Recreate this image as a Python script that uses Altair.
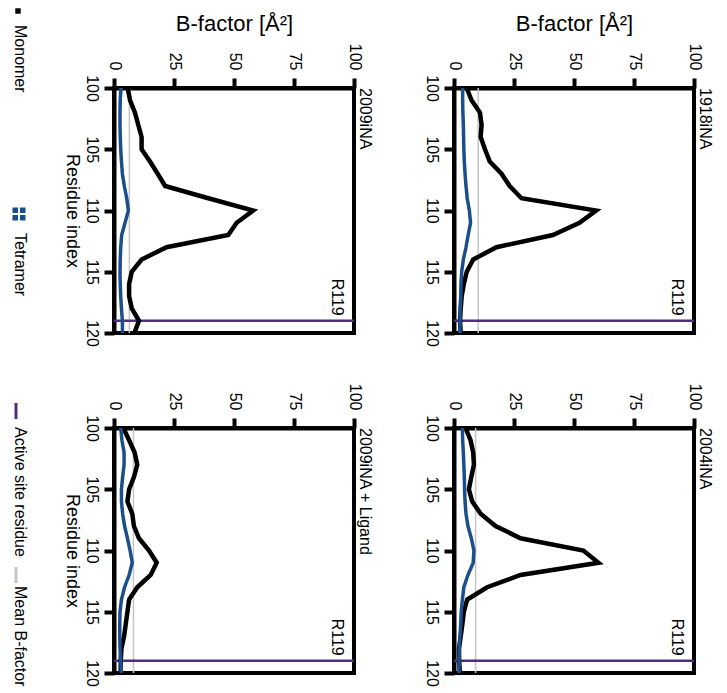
import altair as alt
import pandas as pd

# ---------------- data ----------------
residues = list(range(100, 121))
panel_names = ["2009iNA", "1918iNA", "2009iNA + Ligand", "2004iNA"]

monomer_2009 = [5.7, 6.7, 8.7, 10.1, 11.5, 11.5, 15.0, 18.2, 21.3, 39.3, 58.0,
                51.1, 47.6, 21.9, 11.5, 7.4, 6.3, 6.3, 7.4, 10.4, 8.5]
tetramer_2009 = [2.9, 2.6, 2.5, 2.5, 2.6, 2.8, 3.1, 3.5, 4.3, 5.3, 6.0,
                 4.6, 3.2, 2.8, 2.6, 2.5, 2.6, 2.8, 3.1, 3.5, 3.5]
monomer_1918 = [5.3, 7.3, 10.8, 11.5, 11.1, 12.9, 14.9, 19.8, 23.2, 28.1, 59.2,
                52.3, 41.2, 17.7, 8.0, 5.3, 4.1, 3.2, 2.8, 2.5, 2.8]
tetramer_1918 = [3.6, 3.6, 3.7, 3.9, 4.0, 4.1, 4.3, 4.6, 5.0, 5.5, 6.4,
                 6.9, 5.9, 5.0, 3.9, 3.2, 2.9, 2.8, 2.6, 2.5, 2.5]
monomer_2009_lig = [3.9, 6.3, 8.6, 9.7, 8.3, 6.3, 5.6, 7.6, 8.3, 10.4, 14.6,
                    17.8, 15.3, 9.7, 6.3, 5.6, 4.9, 4.2, 3.1, 2.8, 2.8]
tetramer_2009_lig = [2.8, 3.3, 4.2, 4.2, 3.6, 3.1, 3.1, 3.6, 4.4, 5.6, 6.7,
                     7.6, 6.3, 4.4, 3.1, 2.5, 2.4, 2.4, 2.5, 2.8, 3.1]
monomer_2004 = [4.8, 6.9, 8.0, 8.3, 7.2, 6.2, 7.6, 11.1, 17.3, 27.7, 53.9,
                60.2, 27.7, 13.8, 5.5, 4.1, 3.5, 2.8, 2.1, 2.1, 2.5]
tetramer_2004 = [3.5, 3.6, 3.9, 4.1, 4.3, 4.4, 4.6, 5.0, 5.8, 7.2, 8.3,
                 8.0, 5.8, 4.1, 3.5, 3.0, 2.8, 2.5, 2.2, 2.1, 2.1]
mean_bfactor = [6.4, 10.1, 8.1, 9.0]   # in panel_names order

active_site = 119
active_label = "R119"
b_ticks = [0, 25, 50, 75, 100]
res_ticks = [100, 105, 110, 115, 120]
legend_labels = ["Monomer", "Tetramer", "Active site residue", "Mean B-factor"]

# ---------------- style ----------------
FONT = "Liberation Sans"
BLACK = "#000000"
BLUE = "#1a4f8c"
PURPLE = "#4f2d7f"
GREY = "#c4c4c4"
W, H = 240, 245

monomers = [monomer_2009, monomer_1918, monomer_2009_lig, monomer_2004]
tetramers = [tetramer_2009, tetramer_1918, tetramer_2009_lig, tetramer_2004]


def panel(idx, top_title, left_title):
    df = pd.DataFrame({"residue": residues, "monomer": monomers[idx],
                       "tetramer": tetramers[idx]})
    xscale = alt.Scale(domain=[0, 100], nice=False, zero=False)
    yscale = alt.Scale(domain=[100, 120], reverse=True, nice=False, zero=False)

    xaxis_kw = dict(orient="top", values=b_ticks, labelAngle=90, labelAlign="right",
                    labelBaseline="middle", labelFlush=False, labelOverlap=False,
                    labelPadding=8, tickSize=10)
    if top_title:
        xaxis_kw.update(title="B-factor [Å²]", titlePadding=8, titleFontSize=22)
    else:
        xaxis_kw["title"] = None
    yaxis_kw = dict(orient="left", values=res_ticks, labelAngle=90, labelAlign="center",
                    labelBaseline="top", labelFlush=False, labelOverlap=False,
                    labelPadding=5, tickSize=10)
    if left_title:
        yaxis_kw.update(title="Residue index", titleAngle=90, titleBaseline="top",
                        titlePadding=3, titleFontSize=18)
    else:
        yaxis_kw["title"] = None

    def X(field):
        return alt.X(field + ":Q", scale=xscale, axis=alt.Axis(**xaxis_kw))

    Y = alt.Y("residue:Q", scale=yscale, axis=alt.Axis(**yaxis_kw))

    mean_df = pd.DataFrame({"mean_b": [mean_bfactor[idx]]})
    site_df = pd.DataFrame({"residue": [active_site], "label": [active_label]})
    name_df = pd.DataFrame({"name": [panel_names[idx]]})

    mean_rule = alt.Chart(mean_df).mark_rule(color=GREY, strokeWidth=1.5).encode(x=X("mean_b"))
    site_rule = alt.Chart(site_df).mark_rule(color=PURPLE, strokeWidth=2.5).encode(y=Y)
    site_text = alt.Chart(site_df).mark_text(
        angle=90, align="right", baseline="bottom", dx=-5, fontSize=16, font=FONT, color=BLACK
    ).encode(y=Y, x=alt.value(W - 25), text="label:N")
    mono = alt.Chart(df).mark_line(color=BLACK, strokeWidth=4.5, strokeJoin="miter").encode(
        x=X("monomer"), y=Y, order="residue:Q")
    tetra = alt.Chart(df).mark_line(color=BLUE, strokeWidth=3.5).encode(
        x=X("tetramer"), y=Y, order="residue:Q")
    name_text = alt.Chart(name_df).mark_text(
        angle=90, align="left", baseline="alphabetic", fontSize=16, font=FONT, color=BLACK
    ).encode(text="name:N", x=alt.value(W + 6), y=alt.value(0))

    return alt.layer(mean_rule, site_rule, site_text, mono, tetra, name_text).properties(
        width=W, height=H,
        view=alt.ViewBackground(stroke=BLACK, strokeWidth=4),
    )


p_2009 = panel(0, True, True)
p_1918 = panel(1, True, False)
p_lig = panel(2, False, True)
p_2004 = panel(3, False, False)

grid = alt.vconcat(
    alt.hconcat(p_2009, p_1918, spacing=46),
    alt.hconcat(p_lig, p_2004, spacing=46),
    spacing=32,
)

# ---------------- legend (manual, rotated like the chart) ----------------
# the legend's origin lines up with the top of the first plot (page y ~ 87)
ORIGIN = 87
sym_y = [10, 213, 410, 574]      # page rows of the legend symbols
txt_y = [24, 232, 426, 585]      # page rows where the labels start
leg_df = pd.DataFrame({"label": legend_labels})


def one(i):
    return alt.Chart(leg_df.iloc[[i]])


four_sq = ("M-1,-1H-0.15V-0.15H-1Z M0.15,-1H1V-0.15H0.15Z "
           "M-1,0.15H-0.15V1H-1Z M0.15,0.15H1V1H0.15Z")
leg_layers = [
    one(0).mark_square(size=30, color=BLACK, opacity=1).encode(
        x=alt.value(10), y=alt.value(sym_y[0] - ORIGIN)),
    one(1).mark_point(shape=four_sq, filled=True, size=170, color=BLUE, opacity=1).encode(
        x=alt.value(11), y=alt.value(sym_y[1] - ORIGIN)),
    one(2).mark_rule(color=PURPLE, strokeWidth=3).encode(
        x=alt.value(8), y=alt.value(sym_y[2] - ORIGIN - 8), y2=alt.value(sym_y[2] - ORIGIN + 8)),
    one(3).mark_rule(color=GREY, strokeWidth=3).encode(
        x=alt.value(8), y=alt.value(sym_y[3] - ORIGIN - 8), y2=alt.value(sym_y[3] - ORIGIN + 8)),
]
for i in range(4):
    leg_layers.append(
        one(i).mark_text(angle=90, align="left", baseline="middle", fontSize=16,
                         font=FONT, color=BLACK).encode(
            text="label:N", x=alt.value(12), y=alt.value(txt_y[i] - ORIGIN)))

legend = alt.layer(*leg_layers).properties(
    width=22, height=H, view=alt.ViewBackground(strokeOpacity=0))

chart = alt.hconcat(legend, grid, spacing=30).properties(padding=0).configure_axis(
    domainColor=BLACK, domainWidth=4, tickColor=BLACK, tickWidth=4,
    labelFontSize=16, labelColor=BLACK, labelFont=FONT,
    titleFontWeight="normal", titleColor=BLACK, titleFont=FONT,
    grid=False,
)

chart.save("out.html", embed_options={"renderer": "svg", "actions": False})
